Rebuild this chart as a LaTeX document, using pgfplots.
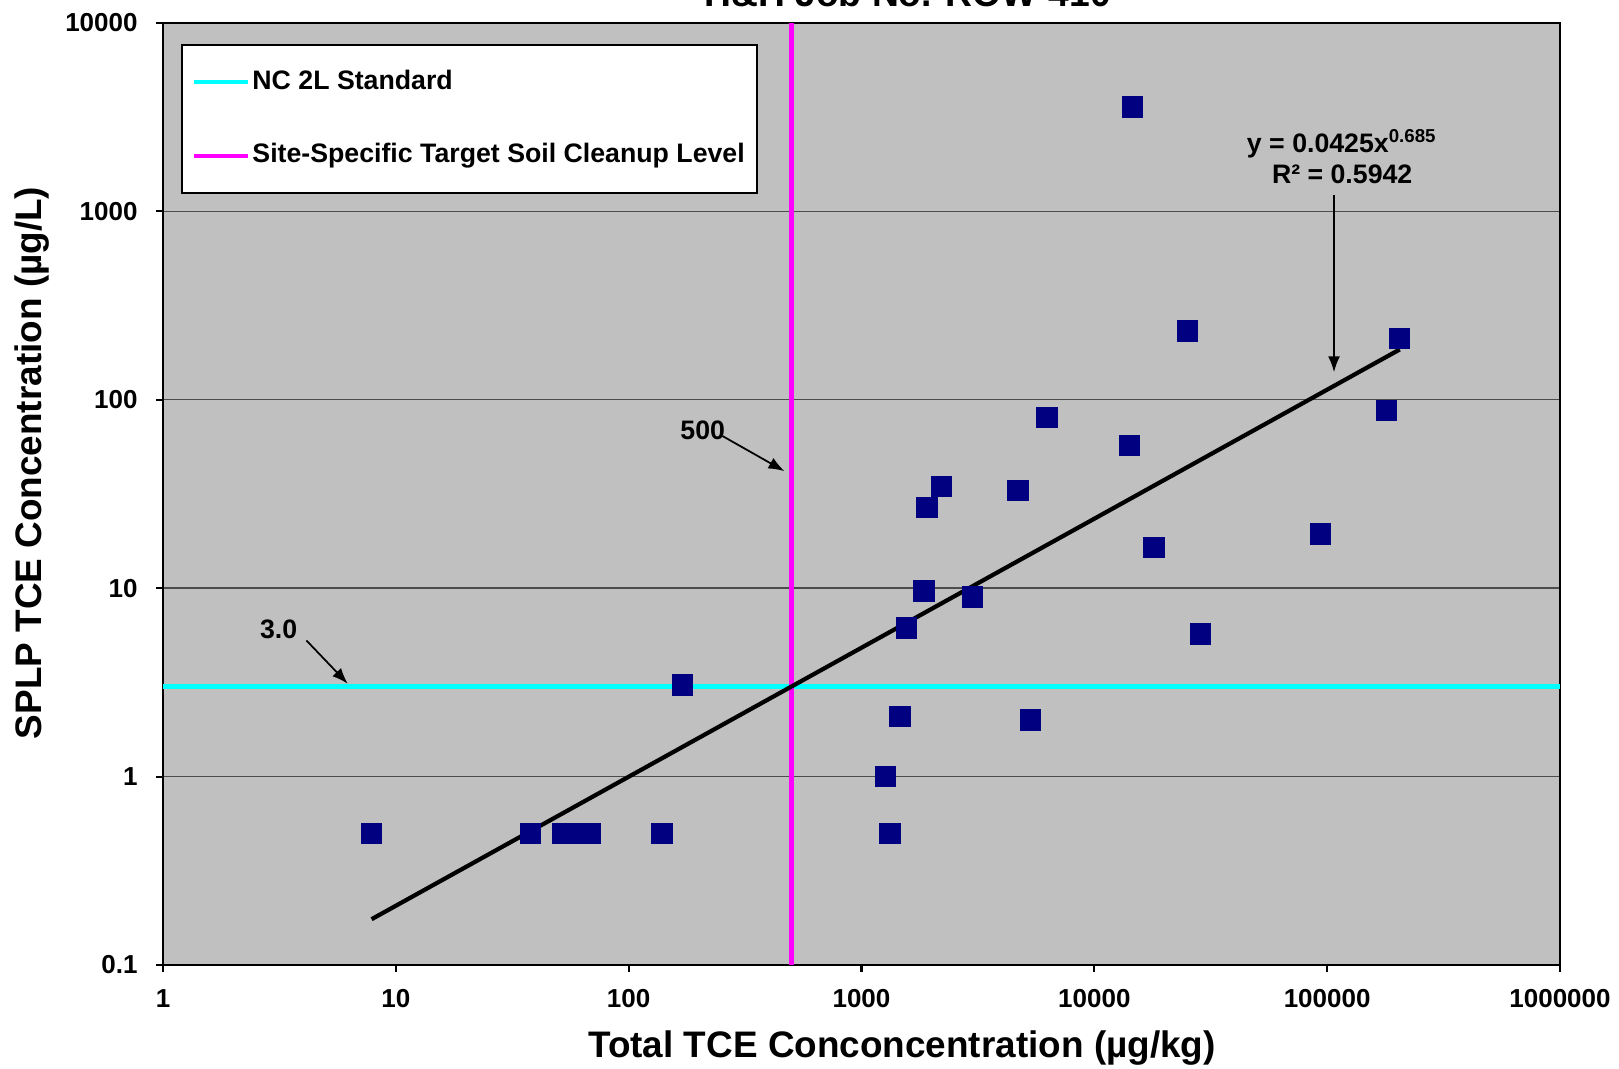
\documentclass[border=0pt]{standalone}
\usepackage{fontspec}
\setmainfont{Liberation Sans}
\usepackage{pgfplots}
\pgfplotsset{compat=1.18}
\usetikzlibrary{arrows.meta,calc}
\definecolor{navyblue}{RGB}{0,0,128}
\definecolor{plotgray}{RGB}{192,192,192}
\definecolor{cyanline}{RGB}{0,255,255}
\definecolor{magline}{RGB}{255,0,255}
\pgfplotstableread{
x y
7.87 0.5
37.9 0.5
52 0.5
55.9 0.5
68.5 0.5
139 0.5
170 3.07
1271 1.0
1324 0.5
1466 2.08
1560 6.15
1854 9.68
1913 26.9
2210 34.6
3000 8.97
4700 32.9
5310 2.0
6250 80.5
14150 57.3
14600 3580
18070 16.4
25060 232
28640 5.7
93600 19.4
180000 88
205000 212
}\pts
\begin{document}
\begin{tikzpicture}
\begin{axis}[
 width=139.7mm, height=94.2mm, scale only axis,
 xmode=log, ymode=log,
 xmin=1, xmax=1000000, ymin=0.1, ymax=10000,
 xtick={1,10,100,1000,10000,100000,1000000},
 xticklabels={1,10,100,1000,10000,100000,1000000},
 ytick={0.1,1,10,100,1000,10000},
 yticklabels={0.1,1,10,100,1000,10000},
 xminorticks=false, yminorticks=false,
 tick align=outside, major tick length=0.7mm,
 tick style={black, line width=0.6pt},
 xtick pos=bottom, ytick pos=left,
 ymajorgrids, major grid style={draw=black!70, line width=0.4pt},
 axis background/.style={fill=plotgray},
 axis line style={line width=0.6pt},
 ticklabel style={font=\fontsize{7.4}{9}\selectfont\bfseries},
 xticklabel style={yshift=-0.5mm},
 yticklabel style={xshift=-0.6mm},
 /pgf/number format/assume math mode=true,
 xlabel={Total TCE Conconcentration (µg/kg)},
 ylabel={SPLP TCE Concentration (µg/L)},
 label style={font=\fontsize{10.5}{12}\selectfont\bfseries},
 xlabel style={at={(axis description cs:0.529,-0.0987)}, anchor=base},
 ylabel style={at={(axis description cs:-0.0935,0.533)}, anchor=center},
 title={H\&H Job No. ROW-410},
 every axis title/.style={at={(axis description cs:0.533,1)}, anchor=base, yshift=1.6mm, font=\fontsize{10.6}{12}\selectfont\bfseries},
 legend style={at={(axis description cs:0.0129,0.9777)}, anchor=north west, draw=black, line width=0.5pt, fill=white,
   font=\fontsize{7.6}{9}\selectfont\bfseries, row sep=3.5mm, inner xsep=1.0mm, inner ysep=1.8mm,
   nodes={inner xsep=0.2mm}, cells={anchor=west}},
 legend image code/.code={\draw[#1] (0mm,0mm) -- (5.4mm,0mm);},
]
\addplot[cyanline, line width=1.3pt] coordinates {(1,3) (1000000,3)};
\addlegendentry{NC 2L Standard}
\addplot[magline, line width=1.3pt] coordinates {(500,0.1) (500,10000)};
\addlegendentry{Site-Specific Target Soil Cleanup Level}
\addplot[only marks, mark=square*, mark size=1mm, mark options={fill=navyblue, draw=navyblue}, forget plot] table {\pts};
\addplot[black, line width=1.2pt, forget plot] coordinates {(7.87,0.175) (205000,185)};
\node[font=\fontsize{7.6}{9}\selectfont\bfseries] at (axis cs:208,69.2) {500};
\draw[-{Latex[length=1.6mm,width=1.2mm]}, line width=0.5pt] (axis cs:253,64.2) -- (axis cs:467,41.8);
\node[font=\fontsize{7.6}{9}\selectfont\bfseries] at (axis cs:3.14,6.07) {3.0};
\draw[-{Latex[length=1.6mm,width=1.2mm]}, line width=0.5pt] (axis cs:4.13,5.28) -- (axis cs:6.22,3.11);
\node[font=\fontsize{7.6}{9}\selectfont\bfseries] at (axis cs:116000,2275) {y = 0.0425x\textsuperscript{0.685}};
\node[font=\fontsize{7.6}{9}\selectfont\bfseries] at (axis cs:116000,1578) {R² = 0.5942};
\draw[-{Latex[length=1.6mm,width=1.2mm]}, line width=0.5pt] (axis cs:107000,1227) -- (axis cs:107000,140);
\coordinate (SW) at (rel axis cs:0,0);
\coordinate (NE) at (rel axis cs:1,1);
\end{axis}
\pgfresetboundingbox
\path[use as bounding box] ($(SW)+(-16.3mm,-10.4mm)$) rectangle ($(NE)+(5.9mm,2.3mm)$);
\end{tikzpicture}
\end{document}
